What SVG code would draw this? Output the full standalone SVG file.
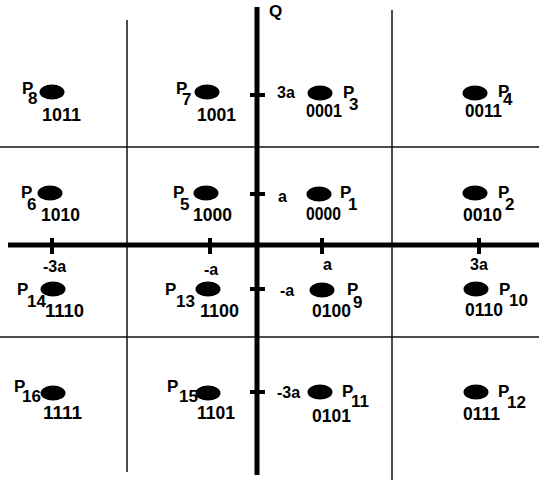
<svg xmlns="http://www.w3.org/2000/svg" width="539" height="480" viewBox="0 0 539 480">
<style>
text{font-family:"Liberation Sans",Arial,sans-serif;font-weight:bold;fill:#000}
.code{font-size:19px}
.p{font-size:17px}
.ax{font-size:16px}
.thin{stroke:#111;stroke-width:1.5;fill:none}
.thick{stroke:#000;stroke-width:5;fill:none}
.tick{stroke:#000;stroke-width:4;fill:none}
ellipse{fill:#000}
</style>
<rect width="539" height="480" fill="#fff"/>
<g id="grid">
<line class="thin" x1="127" y1="20" x2="127" y2="472"/>
<line class="thin" x1="392" y1="10" x2="392" y2="480"/>
<line class="thin" x1="0" y1="147" x2="539" y2="147"/>
<line class="thin" x1="0" y1="337" x2="539" y2="337"/>
</g>
<g id="axes">
<line class="thick" x1="8" y1="245" x2="539" y2="245"/>
<line class="thick" x1="257" y1="7" x2="257" y2="475"/>
<line class="tick" x1="52" y1="238" x2="52" y2="254"/>
<line class="tick" x1="210" y1="238" x2="210" y2="254"/>
<line class="tick" x1="322" y1="238" x2="322" y2="254"/>
<line class="tick" x1="479" y1="238" x2="479" y2="254"/>
<line class="tick" x1="250" y1="95" x2="265" y2="95"/>
<line class="tick" x1="250" y1="194" x2="265" y2="194"/>
<line class="tick" x1="250" y1="289" x2="265" y2="289"/>
<line class="tick" x1="250" y1="392" x2="265" y2="392"/>
<text class="p" x="269" y="17">Q</text>
<text class="ax" x="43" y="272">-3a</text>
<text class="ax" x="204" y="275">-a</text>
<text class="ax" x="323" y="270">a</text>
<text class="ax" x="470" y="270">3a</text>
<text class="ax" x="277" y="98">3a</text>
<text class="ax" x="278" y="202">a</text>
<text class="ax" x="280" y="296">-a</text>
<text class="ax" x="277" y="398">-3a</text>
</g>
<g id="P8"><ellipse cx="52" cy="92" rx="12.5" ry="7.5"/><text class="p" x="22" y="94">P</text><text class="p" x="28" y="104">8</text><text class="code" x="42" y="121" textLength="39" lengthAdjust="spacingAndGlyphs">1011</text></g>
<g id="P7"><ellipse cx="207" cy="92" rx="12.5" ry="7.5"/><text class="p" x="176" y="94">P</text><text class="p" x="182" y="105">7</text><text class="code" x="197" y="121" textLength="39" lengthAdjust="spacingAndGlyphs">1001</text></g>
<g id="P3"><ellipse cx="320" cy="93" rx="12.5" ry="7.5"/><text class="p" x="343" y="98">P</text><text class="p" x="349" y="110">3</text><text class="code" x="306" y="117" textLength="36" lengthAdjust="spacingAndGlyphs">0001</text></g>
<g id="P4"><ellipse cx="475" cy="93" rx="12.5" ry="7.5"/><text class="p" x="498" y="97">P</text><text class="p" x="503" y="105">4</text><text class="code" x="465" y="117" textLength="37" lengthAdjust="spacingAndGlyphs">0011</text></g>
<g id="P6"><ellipse cx="50" cy="193" rx="12.5" ry="7.5"/><text class="p" x="21" y="198">P</text><text class="p" x="27" y="210">6</text><text class="code" x="41" y="221" textLength="39" lengthAdjust="spacingAndGlyphs">1010</text></g>
<g id="P5"><ellipse cx="206" cy="193" rx="12.5" ry="7.5"/><text class="p" x="173" y="198">P</text><text class="p" x="180" y="210">5</text><text class="code" x="193" y="221" textLength="39" lengthAdjust="spacingAndGlyphs">1000</text></g>
<g id="P1"><ellipse cx="319" cy="194" rx="12.5" ry="7.5"/><text class="p" x="340" y="198">P</text><text class="p" x="348" y="210">1</text><text class="code" x="306" y="220" textLength="35" lengthAdjust="spacingAndGlyphs">0000</text></g>
<g id="P2"><ellipse cx="475" cy="193" rx="12.5" ry="7.5"/><text class="p" x="498" y="198">P</text><text class="p" x="505" y="210">2</text><text class="code" x="463" y="221" textLength="39" lengthAdjust="spacingAndGlyphs">0010</text></g>
<g id="P14"><ellipse cx="53" cy="289" rx="12.5" ry="7.5"/><text class="p" x="17" y="295">P</text><text class="p" x="27" y="307">14</text><text class="code" x="45" y="317" textLength="39" lengthAdjust="spacingAndGlyphs">1110</text></g>
<g id="P13"><ellipse cx="208" cy="289" rx="12.5" ry="7.5"/><text class="p" x="165" y="295">P</text><text class="p" x="176" y="307">13</text><text class="code" x="200" y="317" textLength="39" lengthAdjust="spacingAndGlyphs">1100</text></g>
<g id="P9"><ellipse cx="322" cy="290" rx="12.5" ry="7.5"/><text class="p" x="347" y="295">P</text><text class="p" x="353" y="308">9</text><text class="code" x="312" y="317" textLength="39" lengthAdjust="spacingAndGlyphs">0100</text></g>
<g id="P10"><ellipse cx="476" cy="289" rx="12.5" ry="7.5"/><text class="p" x="499" y="295">P</text><text class="p" x="509" y="306">10</text><text class="code" x="465" y="316" textLength="38" lengthAdjust="spacingAndGlyphs">0110</text></g>
<g id="P16"><ellipse cx="53" cy="393" rx="12.5" ry="7.5"/><text class="p" x="14" y="392">P</text><text class="p" x="22" y="402">16</text><text class="code" x="43" y="419" textLength="39" lengthAdjust="spacingAndGlyphs">1111</text></g>
<g id="P15"><ellipse cx="208" cy="393" rx="12.5" ry="7.5"/><text class="p" x="167" y="392">P</text><text class="p" x="179" y="402">15</text><text class="code" x="197" y="419" textLength="38" lengthAdjust="spacingAndGlyphs">1101</text></g>
<g id="P11"><ellipse cx="320" cy="392" rx="12.5" ry="7.5"/><text class="p" x="342" y="397">P</text><text class="p" x="351" y="407">11</text><text class="code" x="312" y="422" textLength="39" lengthAdjust="spacingAndGlyphs">0101</text></g>
<g id="P12"><ellipse cx="476" cy="392" rx="12.5" ry="7.5"/><text class="p" x="498" y="397">P</text><text class="p" x="507" y="408">12</text><text class="code" x="463" y="420" textLength="37" lengthAdjust="spacingAndGlyphs">0111</text></g>
</svg>
